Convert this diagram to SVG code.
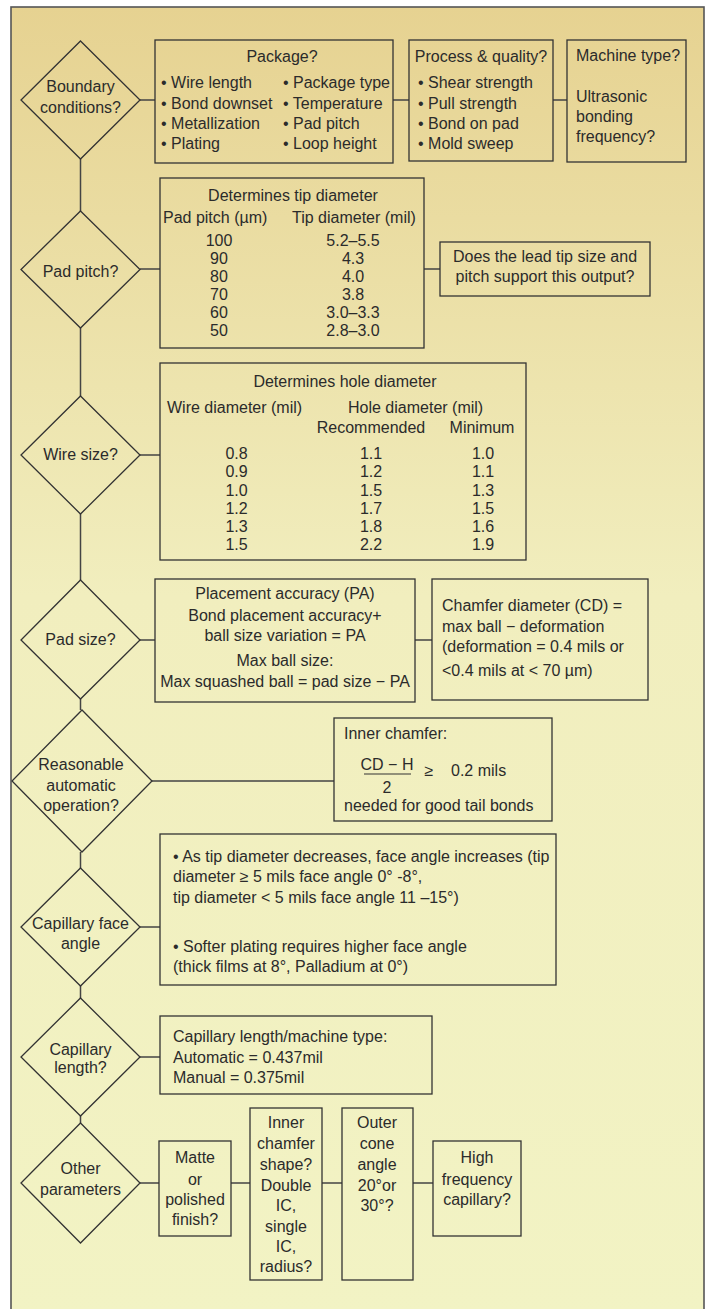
<svg xmlns="http://www.w3.org/2000/svg" width="709" height="1309" viewBox="0 0 709 1309">
<defs>
<linearGradient id="bg" x1="0" y1="0" x2="0" y2="1">
<stop offset="0" stop-color="#E6D291"/>
<stop offset="0.45" stop-color="#F1EEBE"/>
<stop offset="1" stop-color="#F2F3C4"/>
</linearGradient>
</defs>
<style>
text{font-family:"Liberation Sans",Arial,sans-serif;font-size:16px;fill:#2b2b2b}
.c{text-anchor:middle}
.n{fill:none;stroke:#333;stroke-width:1.3}
.d{fill:none;stroke:#333;stroke-width:1.3}
.k{fill:none;stroke:#444;stroke-width:1.5}
</style>
<rect x="0" y="0" width="709" height="1309" fill="#fff"/>
<rect x="11" y="7" width="693" height="1310" fill="url(#bg)" stroke="#555" stroke-width="1.6"/>

<g id="connectors">
<path class="k" d="M140 100H155M393 100H409M553 100H567"/>
<path class="k" d="M80.5 159V211M140 269H160M424 269H440"/>
<path class="k" d="M80.5 328V396M140 455H160"/>
<path class="k" d="M80.5 514V580M140 640H155M415 640H432"/>
<path class="k" d="M80.5 699V710M152 781H334"/>
<path class="k" d="M80.5 852V868M140 927H160"/>
<path class="k" d="M80.5 986V998M140 1057H160"/>
<path class="k" d="M80.5 1116V1123M140 1183H159M231 1183H250M322 1183H342M413 1183H433"/>
</g>

<g id="boundary">
<polygon class="d" points="80.5,41 140,100 80.5,159 21,100"/>
<text class="c" x="80.5" y="92">Boundary</text>
<text class="c" x="80.5" y="113">conditions?</text>
</g>
<g id="package">
<rect class="n" x="155" y="40" width="238" height="123"/>
<text class="c" x="282" y="62">Package?</text>
<text x="161" y="88">• Wire length</text>
<text x="161" y="108.5">• Bond downset</text>
<text x="161" y="129">• Metallization</text>
<text x="161" y="149">• Plating</text>
<text x="283" y="88">• Package type</text>
<text x="283" y="108.5">• Temperature</text>
<text x="283" y="129">• Pad pitch</text>
<text x="283" y="149">• Loop height</text>
</g>
<g id="process">
<rect class="n" x="409" y="40" width="144" height="121"/>
<text class="c" x="481" y="62">Process &amp; quality?</text>
<text x="418" y="88">• Shear strength</text>
<text x="418" y="108.5">• Pull strength</text>
<text x="418" y="129">• Bond on pad</text>
<text x="418" y="149">• Mold sweep</text>
</g>
<g id="machine">
<rect class="n" x="567" y="40" width="119" height="122"/>
<text x="576" y="61">Machine type?</text>
<text x="576" y="102">Ultrasonic</text>
<text x="576" y="122">bonding</text>
<text x="576" y="142">frequency?</text>
</g>

<g id="padpitch">
<polygon class="d" points="80.5,211 140,269.5 80.5,328 21,269.5"/>
<text class="c" x="80.5" y="277">Pad pitch?</text>
</g>
<g id="tiptable">
<rect class="n" x="160" y="178" width="264" height="170"/>
<text class="c" x="293" y="201">Determines tip diameter</text>
<text x="163" y="223">Pad pitch (µm)</text>
<text x="292" y="223">Tip diameter (mil)</text>
<text class="c" x="219" y="246">100</text>
<text class="c" x="219" y="264">90</text>
<text class="c" x="219" y="282">80</text>
<text class="c" x="219" y="300">70</text>
<text class="c" x="219" y="318">60</text>
<text class="c" x="219" y="336">50</text>
<text class="c" x="353" y="246">5.2–5.5</text>
<text class="c" x="353" y="264">4.3</text>
<text class="c" x="353" y="282">4.0</text>
<text class="c" x="353" y="300">3.8</text>
<text class="c" x="353" y="318">3.0–3.3</text>
<text class="c" x="353" y="336">2.8–3.0</text>
</g>
<g id="leadtip">
<rect class="n" x="440" y="242" width="210" height="54"/>
<text class="c" x="545" y="262">Does the lead tip size and</text>
<text class="c" x="545" y="282">pitch support this output?</text>
</g>

<g id="wiresize">
<polygon class="d" points="80.5,396 140,455 80.5,514 21,455"/>
<text class="c" x="80.5" y="460">Wire size?</text>
</g>
<g id="holetable">
<rect class="n" x="160" y="363" width="366" height="197"/>
<text class="c" x="345" y="387">Determines hole diameter</text>
<text x="167" y="413">Wire diameter (mil)</text>
<text x="348" y="413">Hole diameter (mil)</text>
<text class="c" x="371" y="433">Recommended</text>
<text class="c" x="482" y="433">Minimum</text>
<text class="c" x="236.5" y="459">0.8</text>
<text class="c" x="236.5" y="477">0.9</text>
<text class="c" x="236.5" y="495.5">1.0</text>
<text class="c" x="236.5" y="513.5">1.2</text>
<text class="c" x="236.5" y="532">1.3</text>
<text class="c" x="236.5" y="550">1.5</text>
<text class="c" x="371" y="459">1.1</text>
<text class="c" x="371" y="477">1.2</text>
<text class="c" x="371" y="495.5">1.5</text>
<text class="c" x="371" y="513.5">1.7</text>
<text class="c" x="371" y="532">1.8</text>
<text class="c" x="371" y="550">2.2</text>
<text class="c" x="483" y="459">1.0</text>
<text class="c" x="483" y="477">1.1</text>
<text class="c" x="483" y="495.5">1.3</text>
<text class="c" x="483" y="513.5">1.5</text>
<text class="c" x="483" y="532">1.6</text>
<text class="c" x="483" y="550">1.9</text>
</g>

<g id="padsize">
<polygon class="d" points="80.5,580 140,640 80.5,699 21,640"/>
<text class="c" x="80.5" y="645">Pad size?</text>
</g>
<g id="placement">
<rect class="n" x="155" y="579" width="260" height="123"/>
<text class="c" x="285" y="599">Placement accuracy (PA)</text>
<text class="c" x="285" y="621">Bond placement accuracy+</text>
<text class="c" x="285" y="641">ball size variation = PA</text>
<text class="c" x="285" y="666">Max ball size:</text>
<text class="c" x="285" y="687">Max squashed ball = pad size − PA</text>
</g>
<g id="chamferdia">
<rect class="n" x="432" y="579" width="216" height="121"/>
<text x="442" y="611">Chamfer diameter (CD) =</text>
<text x="442" y="632">max ball − deformation</text>
<text x="442" y="652">(deformation = 0.4 mils or</text>
<text x="442" y="676">&lt;0.4 mils at &lt; 70 µm)</text>
</g>

<g id="reasonable">
<polygon class="d" points="82,710 152,781 82,852 12,781"/>
<text class="c" x="81" y="770">Reasonable</text>
<text class="c" x="81" y="791">automatic</text>
<text class="c" x="81" y="811">operation?</text>
</g>
<g id="innerchamfer">
<rect class="n" x="334" y="718" width="218" height="103"/>
<text x="344" y="739">Inner chamfer:</text>
<text class="c" x="387" y="770">CD − H</text>
<line x1="364" y1="774" x2="411" y2="774" stroke="#333" stroke-width="1.2"/>
<text class="c" x="387" y="793">2</text>
<text class="c" x="429" y="776">≥</text>
<text x="451" y="776">0.2 mils</text>
<text x="344" y="811">needed for good tail bonds</text>
</g>

<g id="faceangle">
<polygon class="d" points="80.5,868 140,927 80.5,986 21,927"/>
<text class="c" x="80.5" y="929">Capillary face</text>
<text class="c" x="80.5" y="949">angle</text>
</g>
<g id="facebox">
<rect class="n" x="160" y="834" width="396" height="151"/>
<text x="173" y="862">• As tip diameter decreases, face angle increases (tip</text>
<text x="173" y="882">diameter ≥ 5 mils face angle 0° -8°,</text>
<text x="173" y="903">tip diameter &lt; 5 mils face angle 11 –15°)</text>
<text x="173" y="952">• Softer plating requires higher face angle</text>
<text x="173" y="972">(thick films at 8°, Palladium at 0°)</text>
</g>

<g id="caplength">
<polygon class="d" points="80.5,998 140,1057 80.5,1116 21,1057"/>
<text class="c" x="80.5" y="1055">Capillary</text>
<text class="c" x="80.5" y="1073">length?</text>
</g>
<g id="lengthbox">
<rect class="n" x="160" y="1016" width="272" height="78"/>
<text x="173" y="1042">Capillary length/machine type:</text>
<text x="173" y="1063">Automatic = 0.437mil</text>
<text x="173" y="1083">Manual = 0.375mil</text>
</g>

<g id="other">
<polygon class="d" points="80.5,1123 140,1183 80.5,1243 21,1183"/>
<text class="c" x="80.5" y="1174">Other</text>
<text class="c" x="80.5" y="1195">parameters</text>
</g>
<g id="matte">
<rect class="n" x="159" y="1141" width="72" height="95"/>
<text class="c" x="195" y="1163">Matte</text>
<text class="c" x="195" y="1185">or</text>
<text class="c" x="195" y="1205">polished</text>
<text class="c" x="195" y="1225">finish?</text>
</g>
<g id="innershape">
<rect class="n" x="250" y="1108" width="72" height="172"/>
<text class="c" x="286" y="1128">Inner</text>
<text class="c" x="286" y="1149">chamfer</text>
<text class="c" x="286" y="1170">shape?</text>
<text class="c" x="286" y="1191">Double</text>
<text class="c" x="286" y="1211">IC,</text>
<text class="c" x="286" y="1232">single</text>
<text class="c" x="286" y="1252">IC,</text>
<text class="c" x="286" y="1272">radius?</text>
</g>
<g id="outercone">
<rect class="n" x="342" y="1108" width="71" height="172"/>
<text class="c" x="377" y="1128">Outer</text>
<text class="c" x="377" y="1149">cone</text>
<text class="c" x="377" y="1170">angle</text>
<text class="c" x="377" y="1191">20°or</text>
<text class="c" x="377" y="1211">30°?</text>
</g>
<g id="highfreq">
<rect class="n" x="433" y="1141" width="88" height="95"/>
<text class="c" x="477" y="1163">High</text>
<text class="c" x="477" y="1185">frequency</text>
<text class="c" x="477" y="1205">capillary?</text>
</g>
</svg>
